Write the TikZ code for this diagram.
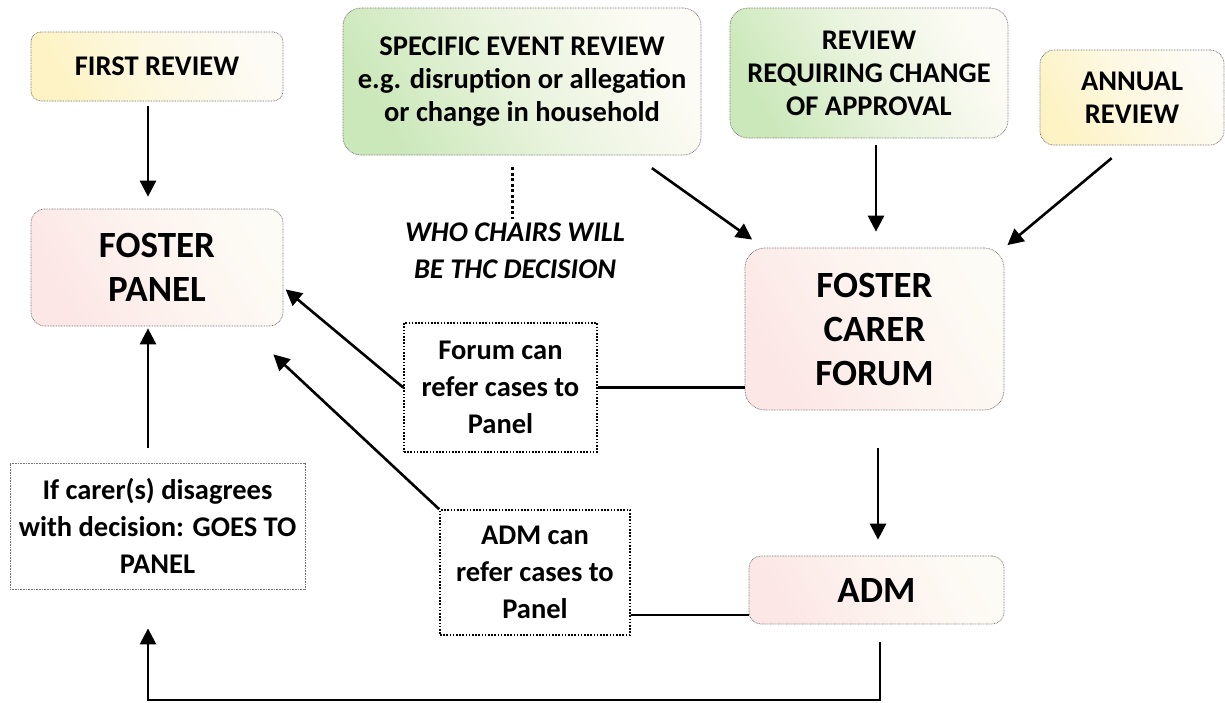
\documentclass[tikz,border=0pt]{standalone}
\usepackage{fontspec}
\setmainfont{Carlito}
\usetikzlibrary{arrows.meta}
\definecolor{cream}{RGB}{253,251,245}
\definecolor{lemon}{RGB}{253,243,196}
\definecolor{sage}{RGB}{203,232,186}
\definecolor{rose}{RGB}{252,230,230}
\newcommand{\smalltxt}{\fontsize{28.5}{33}\selectfont\bfseries}
\newcommand{\notetxt}{\fontsize{28.5}{37}\selectfont\bfseries}
\newcommand{\bigtxt}{\fontsize{37}{44}\selectfont\bfseries}

\begin{document}
\begin{tikzpicture}[>={Triangle[length=16pt, width=16pt]}, x=1pt, y=-1pt,
  stage/.style={draw=black!55, line width=0.7pt, dash pattern=on 0.8pt off 0.8pt, rounded corners=14pt, align=center, inner sep=0pt, text=black},
  lemonstage/.style={stage, top color=cream, bottom color=lemon, middle color=cream!60!lemon, shading angle=-60},
  sagestage/.style={stage, top color=cream, bottom color=sage, middle color=cream!60!sage, shading angle=-60},
  rosestage/.style={stage, top color=cream, bottom color=rose, middle color=cream!60!rose, shading angle=-60},
  notebox/.style={draw, line width=1.6pt, dash pattern=on 1.6pt off 1.6pt, align=center, inner sep=0pt, font=\notetxt},
  link/.style={line width=2.6pt}]
  \useasboundingbox (0,0) rectangle (1225,702);
  % Stages
  \node[lemonstage, rounded corners=10pt, minimum width=252pt, minimum height=69pt, font=\smalltxt] (first) at (157,66.5) {FIRST REVIEW};
  \node[rosestage, minimum width=252pt, minimum height=117pt, font=\bigtxt] (panel) at (157,267.5) {FOSTER\\PANEL};

  \node[sagestage, rounded corners=18pt, minimum width=358pt, minimum height=147pt, font=\smalltxt] (specific) at (522,81.5) {SPECIFIC EVENT REVIEW\\e.g. disruption or allegation\\or change in household};
  \node[sagestage, rounded corners=18pt, minimum width=278pt, minimum height=130pt, font=\smalltxt] (requiring) at (869,73) {REVIEW\\REQUIRING CHANGE\\OF APPROVAL};
  \node[lemonstage, minimum width=184pt, minimum height=95pt, font=\smalltxt] (annual) at (1132,97.5) {ANNUAL\\REVIEW};

  \node[align=center, inner sep=0pt, font=\fontsize{28.5}{37}\selectfont\bfseries\itshape] (who) at (515,251) {WHO CHAIRS WILL\\BE THC DECISION};

  \node[rosestage, rounded corners=20pt, minimum width=259pt, minimum height=162pt, font=\bigtxt] (forum) at (874.5,329) {FOSTER\\CARER\\FORUM};
  \node[rosestage, rounded corners=12pt, minimum width=255pt, minimum height=68pt, font=\bigtxt] (adm) at (876.5,590) {ADM};

  % Notes
  \node[notebox, minimum width=193pt, minimum height=129pt] (forumref) at (500.5,387.5) {Forum can\\refer cases to\\Panel};
  \node[notebox, minimum width=190pt, minimum height=125pt] (admref) at (535,572.5) {ADM can\\refer cases to\\Panel};
  \node[notebox, draw=black!55, line width=0.8pt, dash pattern=on 0.8pt off 0.8pt, minimum width=295pt, minimum height=126pt] (carer) at (157.5,526) {If carer(s) disagrees\\with decision: GOES TO\\PANEL};

  % Edges
  \draw[link, ->, shorten <=5pt, shorten >=12pt] ([xshift=-9pt]first.south) -- ([xshift=-9pt]panel.north);
  \draw[link, ->, shorten <=22pt, shorten >=14pt] ([xshift=112pt]specific.south) -- ([xshift=-111pt]forum.north);
  \draw[link, ->, shorten <=7pt, shorten >=16pt] ([xshift=7pt]requiring.south) -- ([xshift=1.5pt]forum.north);
  \draw[link, ->, shorten <=20pt, shorten >=4pt] ([xshift=-5pt]annual.south) -- (forum.north east);
  \draw[link, line width=3pt, dash pattern=on 3pt off 2.5pt, shorten <=12pt, shorten >=4pt] ([xshift=-10pt]specific.south) -- ([xshift=-3pt]who.north);

  \draw[link, ->, shorten >=3pt] (forumref.west) -- ([yshift=-20pt]panel.east);
  \draw[link] (forumref.east) -- (forumref.east -| forum.west);
  \draw[link, ->] (admref.north west) -- ([xshift=-10pt, yshift=-28pt]panel.south east);
  \draw[link] ([yshift=-25pt]adm.west) -- ([yshift=-25pt]adm.west -| admref.east);

  \draw[link, ->, shorten <=38pt, shorten >=16pt] ([xshift=3.5pt]forum.south) -- ([xshift=1.5pt]adm.north);
  \draw[link, ->, shorten <=15pt, shorten >=2pt] ([xshift=-9.5pt]carer.north) -- ([xshift=-9pt]panel.south);
  \draw[link, ->, shorten <=18pt, shorten >=39pt] ([xshift=3.5pt]adm.south) -- ++(0,75.5) -| ([xshift=-9.5pt]carer.south);
\end{tikzpicture}
\end{document}
